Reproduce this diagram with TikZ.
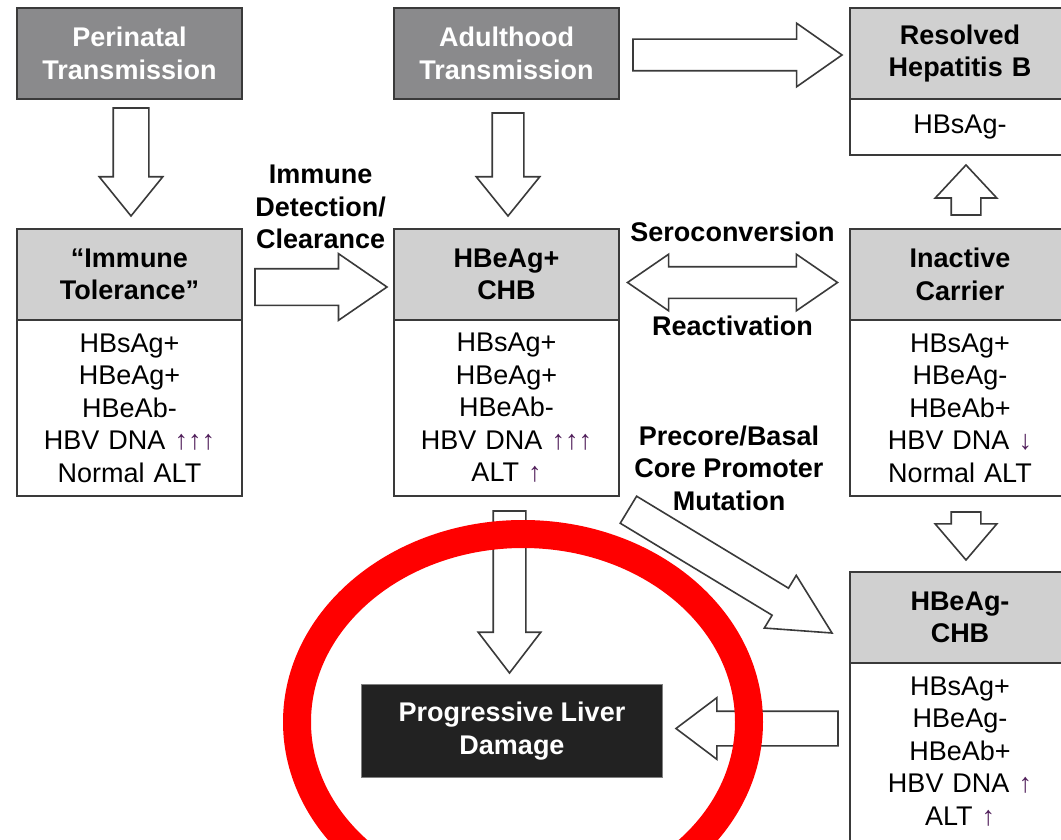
\documentclass[tikz,border=0pt]{standalone}
\usepackage{fontspec}
\setmainfont{Liberation Sans}
\usepackage{tikz}
\usetikzlibrary{shapes.arrows,positioning,calc}
\usepackage{xcolor}
\definecolor{hbdark}{RGB}{138,138,140}
\definecolor{hblight}{RGB}{208,208,208}
\definecolor{hbline}{RGB}{58,58,58}
\definecolor{hbblack}{RGB}{34,34,34}
\definecolor{hbarrow}{RGB}{80,30,90}
\definecolor{hbred}{RGB}{255,0,0}
\newcommand{\hbfont}{\fontsize{27}{32.5}\selectfont}
\newcommand{\hbup}{\textcolor{hbarrow}{↑}}
\newcommand{\hbdown}{\textcolor{hbarrow}{↓}}
\tikzstyle{stagehead} = [rectangle, draw=hbline, line width=2pt, fill=hblight, minimum width=225pt, minimum height=91pt, text width=215pt, align=center, inner sep=0pt, outer sep=0pt, anchor=north west, font=\hbfont\bfseries]
\tikzstyle{sourcebox} = [stagehead, fill=hbdark, text=white]
\tikzstyle{stagebody} = [rectangle, draw=hbline, line width=2pt, fill=white, minimum width=225pt, text width=215pt, align=center, inner sep=0pt, outer sep=0pt, font=\hbfont]
\tikzstyle{fatarrow} = [single arrow, draw=hbline, line width=1.6pt, fill=white, inner xsep=0pt, inner ysep=17pt, single arrow head extend=14pt, single arrow tip angle=78, outer sep=0pt, anchor=tip]
\tikzstyle{fatdouble} = [double arrow, draw=hbline, line width=1.6pt, fill=white, inner xsep=0pt, inner ysep=15pt, double arrow head extend=12.5pt, double arrow tip angle=69, outer sep=0pt]
\tikzstyle{lbl} = [align=center, font=\hbfont\bfseries]

\begin{document}
\begin{tikzpicture}[x=1pt, y=-1pt]
\useasboundingbox (0,0) rectangle (1061,840);
\clip (0,0) rectangle (1061,840);
\fill[white] (0,0) rectangle (1061,840);

% top row
\node (peri) [sourcebox] at (17,8) {Perinatal\\Transmission};
\node (adult) [sourcebox] at (394,8) {Adulthood\\Transmission};
\node (res) [stagehead, minimum width=220pt] at (850,8) {Resolved\\Hepatitis B};
\node (resb) [stagebody, minimum width=220pt, minimum height=56pt, below=0pt of res] {HBsAg-};

% middle row
\node (tol) [stagehead] at (17,229) {“Immune\\Tolerance”};
\node (tolb) [stagebody, minimum height=176pt, below=0pt of tol] {HBsAg+\\HBeAg+\\HBeAb-\\HBV DNA \hbup\hbup\hbup\\Normal ALT};
\node (chb) [stagehead] at (394,229) {HBeAg+\\CHB};
\node (chbb) [stagebody, minimum height=176pt, below=0pt of chb] {HBsAg+\\HBeAg+\\HBeAb-\\HBV DNA \hbup\hbup\hbup\\ALT \hbup};
\node (inact) [stagehead, minimum width=220pt] at (850,229) {Inactive\\Carrier};
\node (inactb) [stagebody, minimum width=220pt, minimum height=176pt, below=0pt of inact] {HBsAg+\\HBeAg-\\HBeAb+\\HBV DNA \hbdown\\Normal ALT};

% bottom row
\node (neg) [stagehead, minimum width=220pt] at (850,572) {HBeAg-\\CHB};
\node (negb) [stagebody, minimum width=220pt, minimum height=240pt, below=0pt of neg] {HBsAg+\\HBeAg-\\HBeAb+\\HBV DNA \hbup\\ALT \hbup\rule[-64pt]{0pt}{0pt}};
\node (damage) [rectangle, draw=gray, line width=1pt, fill=hbblack, text=white, minimum width=301pt, minimum height=93pt, inner sep=0pt, anchor=north west, align=center, font=\hbfont\bfseries] at (361,684) {Progressive Liver\\Damage};

% block arrows, placed by their tips
\node (a1) [fatarrow, rotate=-90, minimum height=108pt] at ($(tol.north)+(1.5,-13)$) {};
\node (a2) [fatarrow, rotate=-90, minimum height=103pt, inner ysep=15pt, single arrow head extend=16pt] at ($(chb.north)+(1.5,-13)$) {};
\node (a3) [fatarrow, minimum height=209pt, inner ysep=15pt, single arrow head extend=16pt, single arrow tip angle=70] at ($(res.west)+(-8,1.5)$) {};
\node (a4) [fatarrow, minimum height=132pt, inner ysep=17.5pt, single arrow head extend=15pt, single arrow tip angle=69] at ($(chb.west)+(-7,12.5)$) {};
\node (a5) [fatdouble, minimum height=210pt] at ($(chb.east)!.5!(inact.west)+(-2,8)$) {};
\node (a6) [fatarrow, rotate=90, minimum height=50pt, inner ysep=14pt, single arrow head extend=16pt, single arrow tip angle=86] at ($(resb.south)+(6,10)$) {};
\node (a7) [fatarrow, rotate=-90, minimum height=48pt, inner ysep=14pt, single arrow head extend=16pt, single arrow tip angle=81] at ($(neg.north)+(6,-12)$) {};
\node (a8) [fatarrow, rotate=-90, minimum height=162pt, inner ysep=15.5pt, single arrow head extend=15pt, single arrow tip angle=75] at ($(damage.north)+(-2.5,-11)$) {};
\node (a9) [fatarrow, rotate=180, minimum height=162pt, inner ysep=16.5pt, single arrow head extend=13.5pt, single arrow tip angle=74] at ($(damage.east)+(13,-2.5)$) {};
\node (a10) [fatarrow, rotate=-31.2, minimum height=238pt, inner ysep=15pt, single arrow head extend=15pt, single arrow tip angle=54] at ($(neg.west)+(-18,15.5)$) {};

% arrow labels
\node (detect) [lbl, above=16pt of a4, xshift=13pt] {Immune\\Detection/\\Clearance};
\node (sero) [lbl, above=21pt of a5] {Seroconversion};
\node (react) [lbl, below=14pt of a5] {Reactivation};
\node (mut) [lbl] at (729,468) {Precore/Basal\\Core Promoter\\Mutation};

% highlight
\draw[hbred, line width=28pt] (523,722) ellipse [x radius=226, y radius=188];
\end{tikzpicture}
\end{document}
